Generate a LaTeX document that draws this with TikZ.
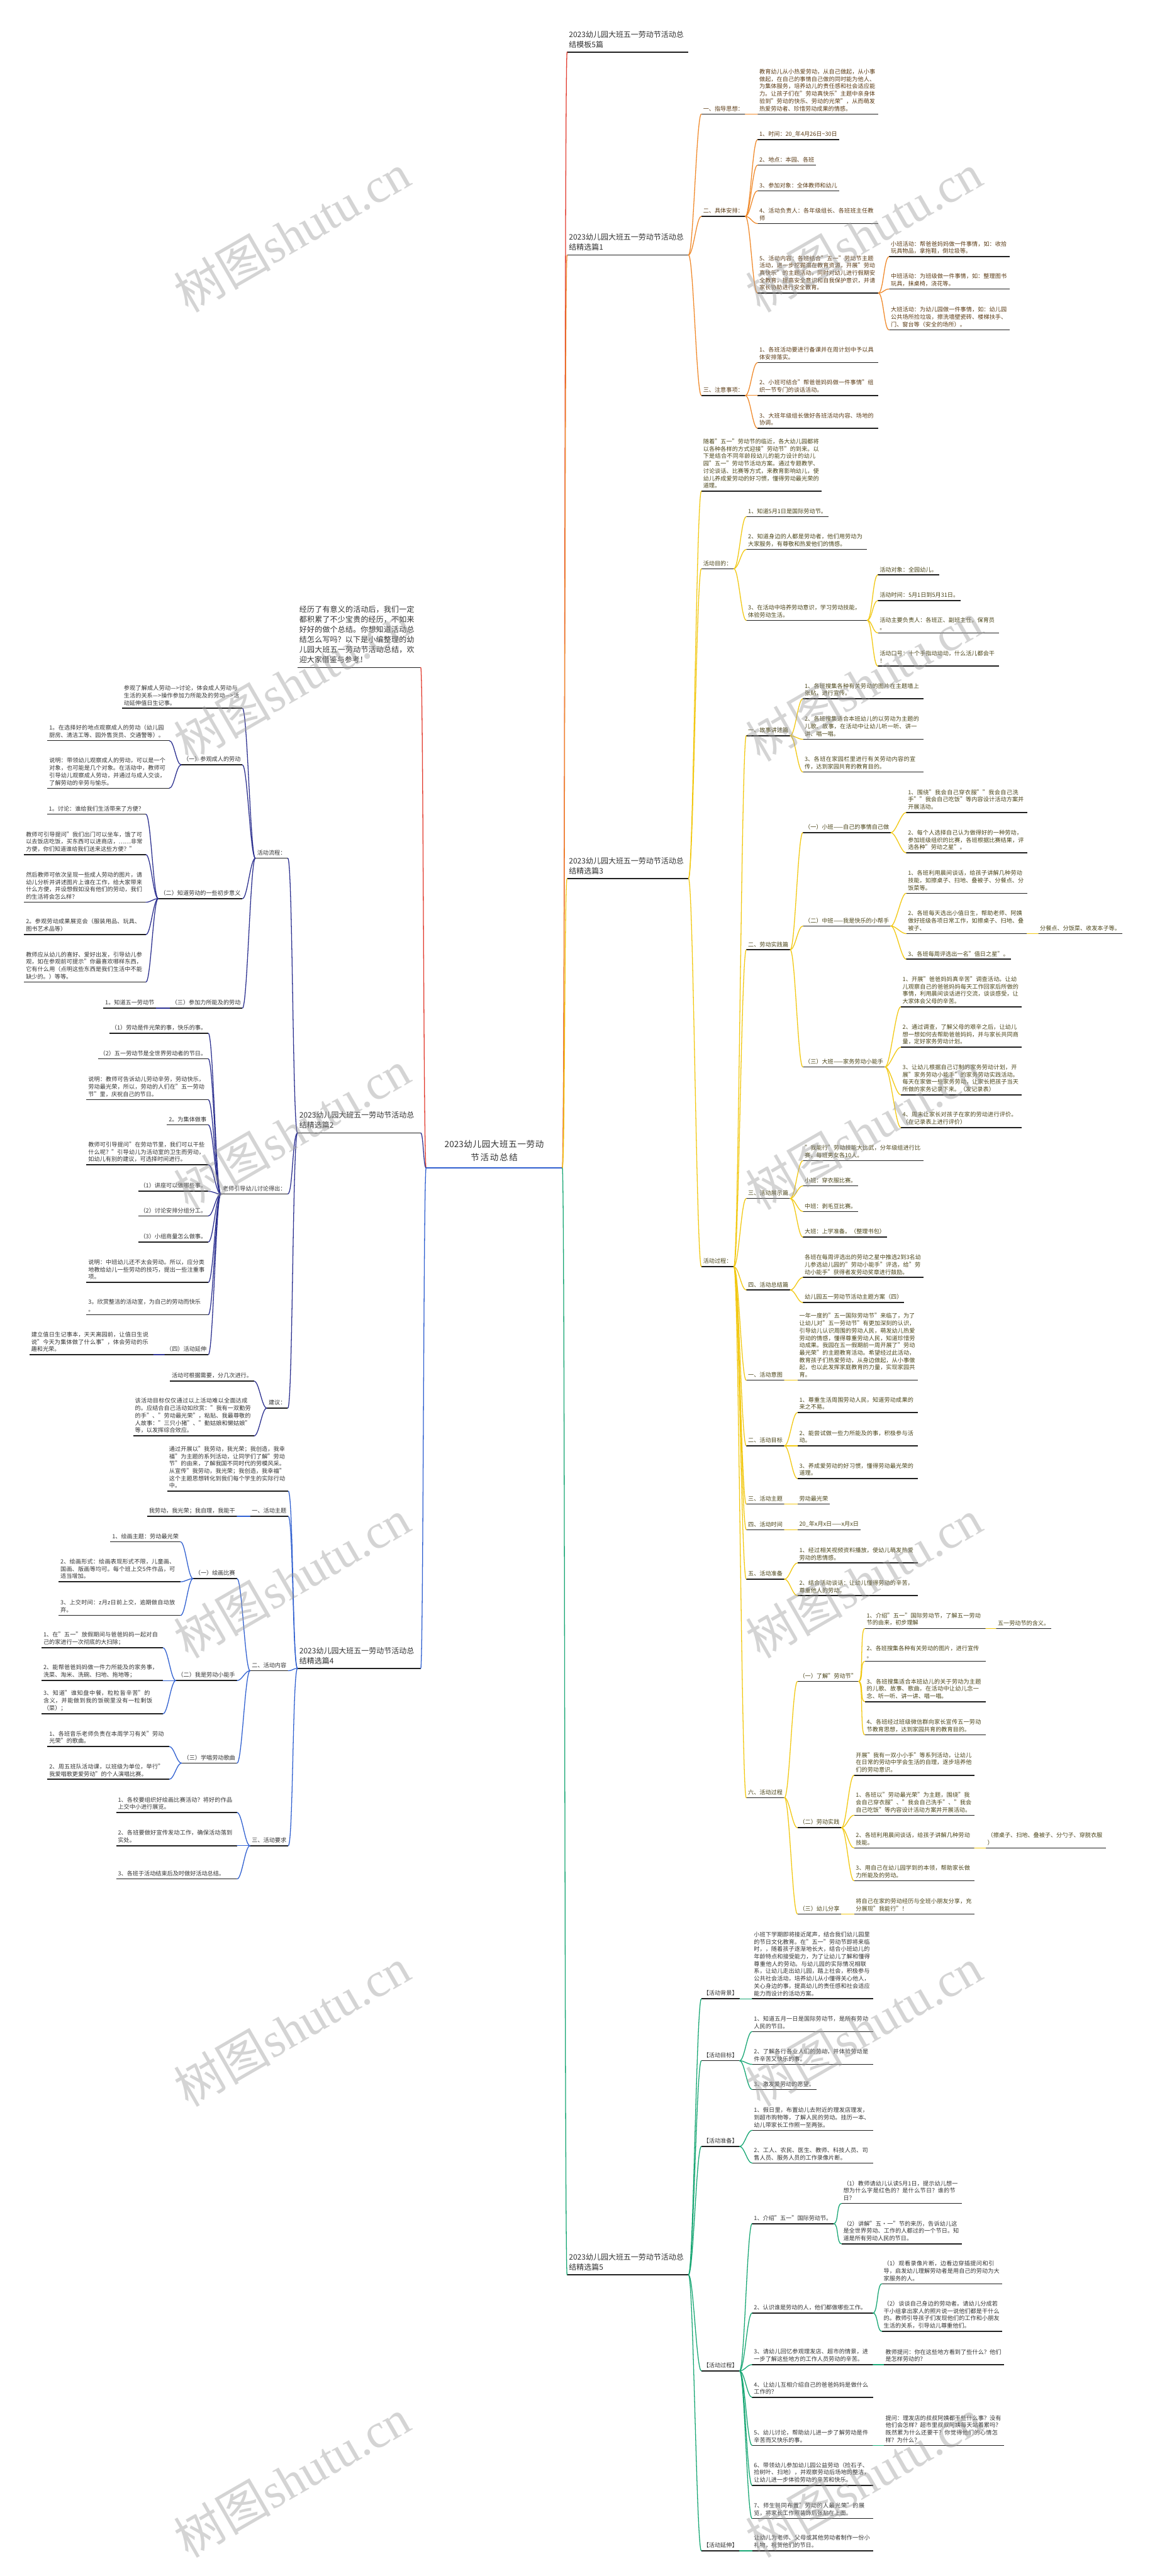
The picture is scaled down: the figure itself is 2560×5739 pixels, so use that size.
\documentclass[tikz,border=0pt]{standalone}
\usepackage{fontspec}
\setmainfont{Noto Sans CJK SC}
\newfontfamily\wmlat{Liberation Serif}
\XeTeXlinebreaklocale "zh"
\XeTeXlinebreakskip = 0pt plus 1pt
\newcommand\bodyfont{\fontsize{12.8}{16.4}\selectfont}
\newcommand\labfont{\fontsize{16.8}{22.4}\selectfont}
\newcommand\cenfont{\fontsize{19}{30}\selectfont}
\definecolor{k0}{HTML}{E23B2E}
\definecolor{k1}{HTML}{F0892A}
\definecolor{k3}{HTML}{F2C811}
\definecolor{k5}{HTML}{17A673}
\definecolor{k2}{HTML}{2B2F8F}
\definecolor{k4}{HTML}{2F5FD0}
\definecolor{tx0}{HTML}{333333}
\definecolor{tx1}{HTML}{5A3A14}
\definecolor{tx3}{HTML}{4A4418}
\newcommand\conR[3]{\draw[#1] (#2.south east) .. controls +(11,0) and +(-11,0) .. (#3.south west);}
\newcommand\conL[3]{\draw[#1] (#2.south west) .. controls +(-11,0) and +(11,0) .. (#3.south east);}
\tikzset{
  ul/.style={draw=black!88, line width=2.2pt},
  base/.style={align=left, font=\bodyfont, inner xsep=4pt, inner ysep=6pt,
    append after command={(\tikzlastnode.south west) edge[ul] (\tikzlastnode.south east)}},
  R/.style={base, anchor=south west},
  RW/.style={R, text width=#1}, RW/.default=261pt,
  L/.style={base, anchor=south east},
  LW/.style={L, text width=#1}, LW/.default=261pt,
  lab/.style={font=\labfont, inner ysep=9pt, text=tx0},
  kk/.style={line width=1.8pt, line cap=round},
  ck0/.style={kk, draw=k0}, ck1/.style={kk, draw=k1}, ck3/.style={kk, draw=k3},
  ck5/.style={kk, draw=k5}, ck2/.style={kk, draw=k2}, ck4/.style={kk, draw=k4},
  wm/.style={rotate=30, text=black!40, text opacity=0.42, font=\fontsize{108}{108}\selectfont},
}
\begin{document}
\begin{tikzpicture}[x=1pt,y=-1pt]
\fill[white] (0,0) rectangle (2560,5739);
\useasboundingbox (0,0) rectangle (2560,5739);

% ---------- centre ----------
\node[anchor=south west, text width=287pt, align=center, font=\cenfont, inner xsep=8pt, inner ysep=14pt, text=tx0,
  append after command={(\tikzlastnode.south west) edge[draw=k4, line width=2.4pt] (\tikzlastnode.south east)}]
  (c) at (949,2602) {2023幼儿园大班五一劳动\\节活动总结};

% ---------- right roots ----------
\node[R, lab, text width=262pt] (m5) at (1263,116) {2023幼儿园大班五一劳动节活动总\\结模板5篇};
\node[R, lab, text width=262pt] (p1) at (1263,568) {2023幼儿园大班五一劳动节活动总\\结精选篇1};
\node[R, lab, text width=262pt] (p3) at (1263,1957) {2023幼儿园大班五一劳动节活动总\\结精选篇3};
\node[R, lab, text width=262pt] (p5) at (1263,5068) {2023幼儿园大班五一劳动节活动总\\结精选篇5};

% ---------- left roots ----------
\node[LW=266pt, lab] (intro) at (937,1487) {经历了有意义的活动后，我们一定都积累了不少宝贵的经历，不如来好好的做个总结。你想知道活动总结怎么写吗？以下是小编整理的幼儿园大班五一劳动节活动总结，欢迎大家借鉴与参考！};
\node[L, lab, text width=266pt] (s2) at (937,2524) {2023幼儿园大班五一劳动节活动总\\结精选篇2};
\node[L, lab, text width=266pt] (s4) at (937,3717) {2023幼儿园大班五一劳动节活动总\\结精选篇4};

% ---------- 精选篇1 ----------
\begin{scope}[nodes={text=tx1}]
\node[R] (a1) at (1562,254) {一、指导思想：};
\node[RW] (a1p) at (1687,254) {教育幼儿从小热爱劳动，从自己做起，从小事做起，在自己的事情自己做的同时能为他人、为集体服务，培养幼儿的责任感和社会适应能力。让孩子们在"劳动真快乐"主题中亲身体验到"劳动的快乐、劳动的光荣"，从而萌发热爱劳动者、珍惜劳动成果的情感。};
\node[R] (a2) at (1562,482) {二、具体安排：};
\node[R] (a21) at (1687,311) {1、时间：20\_年4月26日\textasciitilde30日};
\node[R] (a22) at (1687,368) {2、地点：本园、各班};
\node[R] (a23) at (1687,425) {3、参加对象：全体教师和幼儿};
\node[RW] (a24) at (1687,498) {4、活动负责人：各年级组长、各班班主任教师};
\node[RW] (a25) at (1687,653) {5、活动内容：各班结合"五一"劳动节主题活动，进一步挖掘潜在教育资源，开展"劳动真快乐"的主题活动，同时对幼儿进行假期安全教育，提高安全意识和自我保护意识，并请家长协助进行安全教育。};
\node[RW] (a251) at (1980,572) {小班活动：帮爸爸妈妈做一件事情，如：收拾玩具物品，拿拖鞋，倒垃圾等。};
\node[RW] (a252) at (1980,644) {中班活动：为班级做一件事情，如：整理图书玩具，抹桌椅，浇花等。};
\node[RW] (a253) at (1980,735) {大班活动：为幼儿园做一件事情，如：幼儿园公共场所捡垃圾，擦洗墙壁瓷砖、楼梯扶手、门、窗台等（安全的场所）。};
\node[R] (a3) at (1562,881) {三、注意事项：};
\node[RW] (a31) at (1687,808) {1、各班活动要进行备课并在周计划中予以具体安排落实。};
\node[RW] (a32) at (1687,881) {2、小班可结合"帮爸爸妈妈做一件事情"组织一节专门的谈话活动。};
\node[RW] (a33) at (1687,954) {3、大班年级组长做好各班活动内容、场地的协调。};
\end{scope}

% ---------- 精选篇3 ----------
\begin{scope}[nodes={text=tx3}]
\node[RW=260pt] (b0) at (1562,1094) {随着"五一"劳动节的临近，各大幼儿园都将以各种各样的方式迎接"劳动节"的到来。以下是结合不同年龄段幼儿的能力设计的幼儿园"五一"劳动节活动方案。通过专题教学、讨论谈话、比赛等方式，来教育影响幼儿，使幼儿养成爱劳动的好习惯，懂得劳动最光荣的道理。};
\node[R] (b1) at (1562,1267) {活动目的：};
\node[R] (b11) at (1662,1151) {1、知道5月1日是国际劳动节。};
\node[RW] (b12) at (1662,1224) {2、知道身边的人都是劳动者，他们用劳动为大家服务，有尊敬和热爱他们的情感。};
\node[RW] (b13) at (1662,1382) {3、在活动中培养劳动意识，学习劳动技能，\\体验劳动生活。};
\node[R] (b131) at (1955,1281) {活动对象：全园幼儿。};
\node[R] (b132) at (1955,1338) {活动时间：5月1日到5月31日。};
\node[RW] (b133) at (1955,1410) {活动主要负责人：各班正、副班主任，保育员\\。};
\node[RW] (b134) at (1955,1484) {活动口号：十个手指动动动，什么活儿都会干\\！};
\node[R] (b2) at (1562,2822) {活动过程：};
\node[R] (b21) at (1662,1639) {一、故事讲述篇};
\node[RW] (b211) at (1788,1557) {1、各班搜集各种有关劳动的图片在主题墙上张贴，进行宣传。};
\node[RW] (b212) at (1788,1647) {2、各班搜集适合本班幼儿的以劳动为主题的儿歌、故事，在活动中让幼儿听一听、讲一讲、唱一唱。};
\node[RW] (b213) at (1788,1720) {3、各班在家园栏里进行有关劳动内容的宣传，达到家园共育的教育目的。};
\node[R] (b22) at (1662,2116) {二、劳动实践篇};
\node[R] (b221) at (1788,1855) {（一）小班——自己的事情自己做};
\node[RW] (b2211) at (2018,1810) {1、围绕"我会自己穿衣服""我会自己洗手""我会自己吃饭"等内容设计活动方案并开展活动。};
\node[RW] (b2212) at (2018,1900) {2、每个人选择自己认为做得好的一种劳动，参加班级组织的比赛，各班根据比赛结果，评选各种"劳动之星"。};
\node[R] (b222) at (1788,2063) {（二）中班——我是快乐的小帮手};
\node[RW] (b2221) at (2018,1990) {1、各班利用晨间谈话，给孩子讲解几种劳动技能，如擦桌子、扫地、叠被子、分餐点、分饭菜等。};
\node[RW] (b2222) at (2018,2080) {2、各班每天选出小值日生，帮助老师、阿姨做好班级各项日常工作，如擦桌子、扫地、叠被子、};
\node[R] (b22221) at (2312,2080) {分餐点、分饭菜、收发本子等。};
\node[R] (b2223) at (2018,2137) {3、各班每周评选出一名"值日之星"。};
\node[R] (b223) at (1788,2377) {（三）大班——家务劳动小能手};
\node[RW] (b2231) at (2006,2243) {1、开展"爸爸妈妈真辛苦"调查活动。让幼儿观察自己的爸爸妈妈每天工作回家后所做的事情，利用晨间谈话进行交流，谈谈感受，让大家体会父母的辛苦。};
\node[RW] (b2232) at (2006,2333) {2、通过调查，了解父母的艰辛之后，让幼儿想一想如何去帮助爸爸妈妈，并与家长共同商量，定好家务劳动计划。};
\node[RW] (b2233) at (2006,2439) {3、让幼儿根据自己订制的家务劳动计划，开展"家务劳动小能手"的家务劳动实践活动。每天在家做一些家务劳动，让家长把孩子当天所做的家务记录下来。（发记录表）};
\node[RW] (b2234) at (2006,2512) {4、周末让家长对孩子在家的劳动进行评价。（在记录表上进行评价）};
\node[R] (b23) at (1662,2670) {三、活动展示篇};
\node[RW] (b231) at (1788,2586) {"我能行"劳动技能大比武，分年级组进行比赛，每班男女各10人。};
\node[R] (b232) at (1788,2642) {小班：穿衣服比赛。};
\node[R] (b233) at (1788,2699) {中班：剥毛豆比赛。};
\node[R] (b234) at (1788,2756) {大班：上学准备。（整理书包）};
\node[R] (b24) at (1662,2874) {四、活动总结篇};
\node[RW] (b241) at (1788,2846) {各班在每周评选出的劳动之星中推选2到3名幼儿参选幼儿园的"劳动小能手"评选，给"劳动小能手"获得者发劳动奖章进行鼓励。};
\node[R] (b242) at (1788,2902) {幼儿园五一劳动节活动主题方案（四）};
\node[R] (b25) at (1662,3075) {一、活动意图};
\node[RW=260pt] (b251) at (1776,3075) {一年一度的"五一国际劳动节"来临了，为了让幼儿对"五一劳动节"有更加深刻的认识，引导幼儿认识周围的劳动人民，萌发幼儿热爱劳动的情感，懂得尊重劳动人民，知道珍惜劳动成果。我园在五一假期前一周开展了"劳动最光荣"的主题教育活动。希望经过此活动，教育孩子们热爱劳动，从身边做起，从小事做起，也以此发挥家庭教育的力量，实现家园共育。};
\node[R] (b26) at (1662,3221) {二、活动目标};
\node[RW=260pt] (b261) at (1776,3147) {1、尊重生活周围劳动人民，知道劳动成果的来之不易。};
\node[RW=260pt] (b262) at (1776,3221) {2、能尝试做一些力所能及的事，积极参与活动。};
\node[RW=260pt] (b263) at (1776,3294) {3、养成爱劳动的好习惯，懂得劳动最光荣的道理。};
\node[R] (b27) at (1662,3351) {三、活动主题};
\node[R] (b271) at (1776,3351) {劳动最光荣};
\node[R] (b28) at (1662,3408) {四、活动时间};
\node[R] (b281) at (1776,3408) {20\_年x月x日——x月x日};
\node[R] (b29) at (1662,3518) {五、活动准备};
\node[RW=260pt] (b291) at (1776,3482) {1、经过相关视频资料播放，使幼儿萌发热爱劳动的思情感。};
\node[RW=260pt] (b292) at (1776,3555) {2、结合活动谈话：让幼儿懂得劳动的辛苦，尊重他人的劳动。};
\node[R] (b2a) at (1662,4005) {六、活动过程};
\node[R] (b2a1) at (1776,3746) {（一）了解"劳动节"};
\node[RW] (b2a11) at (1926,3628) {1、介绍"五一"国际劳动节，了解五一劳动节的由来，初步理解};
\node[R] (b2a111) at (2218,3628) {五一劳动节的含义。};
\node[RW] (b2a12) at (1926,3701) {2、各班搜集各种有关劳动的图片，进行宣传\\。};
\node[RW] (b2a13) at (1926,3791) {3、各班搜集适合本班幼儿的关于劳动为主题的儿歌、故事、歌曲，在活动中让幼儿念一念、听一听、讲一讲、唱一唱。};
\node[RW] (b2a14) at (1926,3865) {4、各班经过班级微信群向家长宣传五一劳动节教育思想，达到家园共育的教育目的。};
\node[R] (b2a2) at (1776,4072) {（二）劳动实践};
\node[RW=260pt] (b2a21) at (1902,3955) {开展"我有一双小小手"等系列活动，让幼儿在日常的劳动中学会生活的自理，逐步培养他们的劳动意识。};
\node[RW=260pt] (b2a22) at (1902,4044) {1、各班以"劳动最光荣"为主题，围绕"我会自己穿衣服"、"我会自己洗手"、"我会自己吃饭"等内容设计活动方案并开展活动。};
\node[RW=260pt] (b2a23) at (1902,4117) {2、各班利用晨间谈话，给孩子讲解几种劳动技能。};
\node[RW=260pt] (b2a231) at (2195,4117) {（擦桌子、扫地、叠被子、分勺子、穿脱衣服\\）};
\node[RW=260pt] (b2a24) at (1902,4190) {3、用自己在幼儿园学到的本领，帮助家长做力所能及的劳动。};
\node[R] (b2a3) at (1776,4264) {（三）幼儿分享};
\node[RW=260pt] (b2a31) at (1902,4264) {将自己在家的劳动经历与全班小朋友分享，充分展现"我能行"！};
\end{scope}

% ---------- 精选篇5 ----------
\begin{scope}[nodes={text=tx0}]
\node[R] (c1) at (1562,4453) {【活动背景】};
\node[RW] (c11) at (1675,4453) {小班下学期即将接近尾声，结合我们幼儿园里的节日文化教育。在"五一"劳动节即将来临时，，随着孩子逐渐地长大，结合小班幼儿的年龄特点和接受能力，为了让幼儿了解和懂得尊重他人的劳动。与幼儿园的实际情况相联系，让幼儿走出幼儿园，踏上社会，积极参与公共社会活动，培养幼儿从小懂得关心他人，关心身边的事，提高幼儿的责任感和社会适应能力而设计的活动方案。};
\node[R] (c2) at (1562,4591) {【活动目标】};
\node[RW] (c21) at (1675,4526) {1、知道五月一日是国际劳动节，是所有劳动人民的节日。};
\node[RW] (c22) at (1675,4599) {2、了解各行各业人们的劳动，并体验劳动是件辛苦又快乐的事。};
\node[R] (c23) at (1675,4655) {3、激发爱劳动的愿望。};
\node[R] (c3) at (1562,4782) {【活动准备】};
\node[RW] (c31) at (1675,4746) {1、假日里，布置幼儿去附近的理发店理发，到超市购物等，了解人民的劳动。挂历一本、幼儿带家长工作照一至两张。};
\node[RW] (c32) at (1675,4819) {2、工人、农民、医生、教师、科技人员、司售人员、服务人员的工作录像片断。};
\node[R] (c4) at (1562,5282) {【活动过程】};
\node[R] (c41) at (1675,4954) {1、介绍"五一"国际劳动节。};
\node[RW=260pt] (c411) at (1874,4909) {（1）教师请幼儿认读5月1日，提示幼儿想一想为什么字是红色的？是什么节日？谁的节日？};
\node[RW=260pt] (c412) at (1874,4999) {（2）讲解"五·一"节的来历，告诉幼儿这是全世界劳动、工作的人都过的一个节日。知道是所有劳动人民的节日。};
\node[RW] (c42) at (1675,5153) {2、认识谁是劳动的人，他们都做哪些工作。};
\node[RW=260pt] (c421) at (1964,5088) {（1）观看录像片断，边看边穿插提问和引导，启发幼儿理解劳动者是用自己的劳动为大家服务的人。};
\node[RW=260pt] (c422) at (1964,5194) {（2）谈谈自己身边的劳动者。请幼儿分成若干小组拿出家人的照片说一说他们都是干什么的。教师引导孩子们发现他们的工作和小朋友生活的关系，引导幼儿尊重他们。};
\node[RW] (c43) at (1675,5268) {3、请幼儿回忆参观理发店、超市的情景，进一步了解这些地方的工作人员劳动的辛苦。};
\node[RW=260pt] (c431) at (1968,5268) {教师提问：你在这些地方看到了些什么？他们是怎样劳动的？};
\node[RW] (c44) at (1675,5341) {4、让幼儿互相介绍自己的爸爸妈妈是做什么工作的？};
\node[RW] (c45) at (1675,5448) {5、幼儿讨论，帮助幼儿进一步了解劳动是件辛苦而又快乐的事。};
\node[RW=260pt] (c451) at (1968,5448) {提问：理发店的叔叔阿姨都干些什么事？没有他们会怎样？超市里叔叔阿姨每天站着累吗？既然累为什么还要干？你觉得他们的心情怎样？为什么？};
\node[RW] (c46) at (1675,5537) {6、带领幼儿参加幼儿园公益劳动（捡石子、捡树叶、扫地），并观察劳动后场地的整洁，让幼儿进一步体验劳动的辛苦和快乐。};
\node[RW] (c47) at (1675,5611) {7、师生共同布置"劳动的人最光荣"的展览，将家长工作照装饰后张贴在上面。};
\node[R] (c5) at (1562,5683) {【活动延伸】};
\node[RW] (c51) at (1675,5683) {让幼儿为老师、父母或其他劳动者制作一份小礼物，祝贺他们的节日。};
\end{scope}

% ---------- 精选篇2 ----------
\begin{scope}[nodes={text=tx0}]
\node[L] (d1) at (641,1912) {活动流程：};
\node[LW=260pt] (d11) at (540,1578) {参观了解成人劳动—>讨论，体会成人劳动与生活的关系—>操作参加力所能及的劳动—>活动延伸值日生记事。};
\node[L] (d12) at (540,1704) {（一）参观成人的劳动};
\node[LW=263pt] (d121) at (377,1650) {1。在选择好的地点观察成人的劳动（幼儿园厨房、清洁工等、园外售货员、交通警等）。};
\node[LW=263pt] (d122) at (377,1756) {说明：带领幼儿观察成人的劳动，可以是一个对象，也可能是几个对象。在活动中，教师可引导幼儿观察成人劳动，并通过与成人交谈，了解劳动的辛劳与愉乐。};
\node[L] (d13) at (540,2002) {（二）知道劳动的一些初步意义};
\node[L] (d131) at (325,1814) {1。讨论：谁给我们生活带来了方便？};
\node[LW=263pt] (d132) at (325,1904) {教师可引导提问"我们出门可以坐车，饿了可以去饭店吃饭，买东西可以进商店，……非常方便，你们知道谁给我们送来这些方便？"};
\node[LW=263pt] (d133) at (325,2010) {然后教师可依次呈现一些成人劳动的图片，请幼儿分析并讲述图片上谁在工作，给大家带来什么方便，并设想假如没有他们的劳动，我们的生活将会怎么样？};
\node[LW=263pt] (d134) at (325,2082) {2。参观劳动成果展览会（服装用品、玩具、图书艺术品等）};
\node[LW=263pt] (d135) at (325,2188) {教师应从幼儿的喜好、爱好出发，引导幼儿参观，如在参观前可提示"你最喜欢哪样东西，它有什么用（点明这些东西是我们生活中不能缺少的。）等等。};
\node[L] (d14) at (540,2246) {（三）参加力所能及的劳动};
\node[L] (d141) at (348,2246) {1。知道五一劳动节};
\node[L] (d2) at (641,2660) {老师引导幼儿讨论得出：};
\node[L] (d21) at (464,2302) {（1）劳动是件光荣的事，快乐的事。};
\node[L] (d22) at (464,2359) {（2）五一劳动节是全世界劳动者的节日。};
\node[LW=263pt] (d23) at (464,2450) {说明：教师可告诉幼儿劳动辛劳，劳动快乐，劳动最光荣，所以，劳动的人们在"五一劳动节"里，庆祝自己的节日。};
\node[L] (d24) at (464,2506) {2。为集体做事};
\node[LW=263pt] (d25) at (464,2595) {教师可引导提问"在劳动节里，我们可以干些什么呢？"引导幼儿为活动室的卫生而劳动，如幼儿有别的建议，可选择时间进行。};
\node[L] (d26) at (464,2654) {（1）讲座可以做哪些事。};
\node[L] (d27) at (464,2709) {（2）讨论安排分组分工。};
\node[L] (d28) at (464,2767) {（3）小组商量怎么做事。};
\node[LW=263pt] (d29) at (464,2857) {说明：中班幼儿还不太会劳动。所以，应分类地教给幼儿一些劳动的技巧，提出一些注重事项。};
\node[LW=263pt] (d2a) at (464,2929) {3。欣赏整洁的活动室，为自己的劳动而快乐\\。};
\node[L] (d2b) at (464,3018) {（四）活动延伸};
\node[LW=268pt] (d2b1) at (342,3018) {建立值日生记事本，天天离园前，让值日生说说"今天为集体做了什么事"，体会劳动的乐趣和光荣。};
\node[L] (d3) at (641,3137) {建议：};
\node[L] (d31) at (566,3077) {活动可根据需要，分几次进行。};
\node[LW=261pt] (d32) at (566,3199) {该活动目标仅仅通过以上活动难以全面达成的。应结合自己活动如欣赏："我有一双勤劳的手"、"劳动最光荣"，粘贴、我最尊敬的人故事："三只小猪"、"勤姑娘和懒姑娘"等，以发挥综合效应。};
\end{scope}

% ---------- 精选篇4 ----------
\begin{scope}[nodes={text=tx0}]
\node[LW=261pt] (e0) at (642,3322) {通过开展以"我劳动，我光荣；我创造，我幸福"为主题的系列活动，让同学们了解"劳动节"的由来，了解我国不同时代的劳模风采。从宣传"我劳动，我光荣；我创造，我幸福"这个主题思想转化到我们每个学生的实际行动中。};
\node[L] (e1) at (642,3378) {一、活动主题};
\node[L] (e11) at (528,3378) {我劳动，我光荣；我自理，我能干};
\node[L] (e2) at (642,3722) {二、活动内容};
\node[L] (e21) at (528,3517) {（一）绘画比赛};
\node[L] (e211) at (402,3435) {1、绘画主题：劳动最光荣};
\node[LW=263pt] (e212) at (402,3524) {2、绘画形式：绘画表现形式不限，儿童画、国画、版画等均可。每个班上交5件作品，可适当增加。};
\node[LW=263pt] (e213) at (402,3599) {3、上交时间：z月z日前上交，逾期做自动放弃。};
\node[L] (e22) at (528,3744) {（二）我是劳动小能手};
\node[LW=262pt] (e221) at (363,3671) {1、在"五一"放假期间与爸爸妈妈一起对自己的家进行一次彻底的大扫除；};
\node[LW=262pt] (e222) at (363,3744) {2、能帮爸爸妈妈做一件力所能及的家务事，洗菜、淘米、洗碗、扫地、拖地等；};
\node[LW=262pt] (e223) at (363,3818) {3、知道"谁知盘中餐，粒粒皆辛苦"的含义，并能做到我的饭碗里没有一粒剩饭（菜）；};
\node[L] (e23) at (528,3928) {（三）学唱劳动歌曲};
\node[LW=263pt] (e231) at (377,3891) {1、各班音乐老师负责在本周学习有关"劳动光荣"的歌曲。};
\node[LW=263pt] (e232) at (377,3964) {2、周五班队活动课，以班级为单位，举行"我爱唱歌更爱劳动"的个人演唱比赛。};
\node[L] (e3) at (642,4112) {三、活动要求};
\node[LW=261pt] (e31) at (528,4038) {1、各校要组织好绘画比赛活动？将好的作品上交中小进行展览。};
\node[LW=261pt] (e32) at (528,4112) {2、各班要做好宣传发动工作，确保活动落到实处。};
\node[LW=261pt] (e33) at (528,4186) {3、各班于活动结束后及时做好活动总结。};
\end{scope}

% ---------- main connectors ----------
\draw[ck0] (c.south east) .. controls +(6,0) and +(-6,0) .. (m5.south west);
\draw[ck1] (c.south east) .. controls +(6,0) and +(-6,0) .. (p1.south west);
\draw[ck3] (c.south east) .. controls +(6,0) and +(-6,0) .. (p3.south west);
\draw[ck5] (c.south east) .. controls +(6,0) and +(-6,0) .. (p5.south west);
\draw[ck0] (c.south west) .. controls +(-6,0) and +(6,0) .. (intro.south east);
\draw[ck2] (c.south west) .. controls +(-6,0) and +(6,0) .. (s2.south east);
\draw[ck4] (c.south west) .. controls +(-6,0) and +(6,0) .. (s4.south east);

% 精选篇1
\conR{ck1}{p1}{a1} \conR{ck1}{p1}{a2} \conR{ck1}{p1}{a3}
\conR{ck1}{a1}{a1p}
\conR{ck1}{a2}{a21} \conR{ck1}{a2}{a22} \conR{ck1}{a2}{a23} \conR{ck1}{a2}{a24} \conR{ck1}{a2}{a25}
\conR{ck1}{a25}{a251} \conR{ck1}{a25}{a252} \conR{ck1}{a25}{a253}
\conR{ck1}{a3}{a31} \conR{ck1}{a3}{a32} \conR{ck1}{a3}{a33}

% 精选篇3
\conR{ck3}{p3}{b0} \conR{ck3}{p3}{b1} \conR{ck3}{p3}{b2}
\conR{ck3}{b1}{b11} \conR{ck3}{b1}{b12} \conR{ck3}{b1}{b13}
\conR{ck3}{b13}{b131} \conR{ck3}{b13}{b132} \conR{ck3}{b13}{b133} \conR{ck3}{b13}{b134}
\foreach \k in {b21,b22,b23,b24,b25,b26,b27,b28,b29,b2a} {\conR{ck3}{b2}{\k}}
\conR{ck3}{b21}{b211} \conR{ck3}{b21}{b212} \conR{ck3}{b21}{b213}
\conR{ck3}{b22}{b221} \conR{ck3}{b22}{b222} \conR{ck3}{b22}{b223}
\conR{ck3}{b221}{b2211} \conR{ck3}{b221}{b2212}
\conR{ck3}{b222}{b2221} \conR{ck3}{b222}{b2222} \conR{ck3}{b222}{b2223}
\conR{ck3}{b2222}{b22221}
\conR{ck3}{b223}{b2231} \conR{ck3}{b223}{b2232} \conR{ck3}{b223}{b2233} \conR{ck3}{b223}{b2234}
\conR{ck3}{b23}{b231} \conR{ck3}{b23}{b232} \conR{ck3}{b23}{b233} \conR{ck3}{b23}{b234}
\conR{ck3}{b24}{b241} \conR{ck3}{b24}{b242}
\conR{ck3}{b25}{b251}
\conR{ck3}{b26}{b261} \conR{ck3}{b26}{b262} \conR{ck3}{b26}{b263}
\conR{ck3}{b27}{b271} \conR{ck3}{b28}{b281}
\conR{ck3}{b29}{b291} \conR{ck3}{b29}{b292}
\conR{ck3}{b2a}{b2a1} \conR{ck3}{b2a}{b2a2} \conR{ck3}{b2a}{b2a3}
\conR{ck3}{b2a1}{b2a11} \conR{ck3}{b2a1}{b2a12} \conR{ck3}{b2a1}{b2a13} \conR{ck3}{b2a1}{b2a14}
\conR{ck3}{b2a11}{b2a111}
\conR{ck3}{b2a2}{b2a21} \conR{ck3}{b2a2}{b2a22} \conR{ck3}{b2a2}{b2a23} \conR{ck3}{b2a2}{b2a24}
\conR{ck3}{b2a23}{b2a231}
\conR{ck3}{b2a3}{b2a31}

% 精选篇5
\foreach \k in {c1,c2,c3,c4,c5} {\conR{ck5}{p5}{\k}}
\conR{ck5}{c1}{c11}
\conR{ck5}{c2}{c21} \conR{ck5}{c2}{c22} \conR{ck5}{c2}{c23}
\conR{ck5}{c3}{c31} \conR{ck5}{c3}{c32}
\foreach \k in {c41,c42,c43,c44,c45,c46,c47} {\conR{ck5}{c4}{\k}}
\conR{ck5}{c41}{c411} \conR{ck5}{c41}{c412}
\conR{ck5}{c42}{c421} \conR{ck5}{c42}{c422}
\conR{ck5}{c43}{c431} \conR{ck5}{c45}{c451}
\conR{ck5}{c5}{c51}

% 精选篇2
\conL{ck2}{s2}{d1} \conL{ck2}{s2}{d2} \conL{ck2}{s2}{d3}
\conL{ck2}{d1}{d11} \conL{ck2}{d1}{d12} \conL{ck2}{d1}{d13} \conL{ck2}{d1}{d14}
\conL{ck2}{d12}{d121} \conL{ck2}{d12}{d122}
\foreach \k in {d131,d132,d133,d134,d135} {\conL{ck2}{d13}{\k}}
\conL{ck2}{d14}{d141}
\foreach \k in {d21,d22,d23,d24,d25,d26,d27,d28,d29,d2a,d2b} {\conL{ck2}{d2}{\k}}
\conL{ck2}{d2b}{d2b1}
\conL{ck2}{d3}{d31} \conL{ck2}{d3}{d32}

% 精选篇4
\conL{ck4}{s4}{e0} \conL{ck4}{s4}{e1} \conL{ck4}{s4}{e2} \conL{ck4}{s4}{e3}
\conL{ck4}{e1}{e11}
\conL{ck4}{e2}{e21} \conL{ck4}{e2}{e22} \conL{ck4}{e2}{e23}
\conL{ck4}{e21}{e211} \conL{ck4}{e21}{e212} \conL{ck4}{e21}{e213}
\conL{ck4}{e22}{e221} \conL{ck4}{e22}{e222} \conL{ck4}{e22}{e223}
\conL{ck4}{e23}{e231} \conL{ck4}{e23}{e232}
\conL{ck4}{e3}{e31} \conL{ck4}{e3}{e32} \conL{ck4}{e3}{e33}

% ---------- watermarks ----------
\foreach \yy [count=\i] in {518,1518,2517,3517,4516,5520} {
  \node[wm] (wl\i) at (650,\yy) {树图{\wmlat shutu.cn}};
  \node[wm] (wr\i) at (1924,\yy) {树图{\wmlat shutu.cn}};
}
\end{tikzpicture}
\end{document}
